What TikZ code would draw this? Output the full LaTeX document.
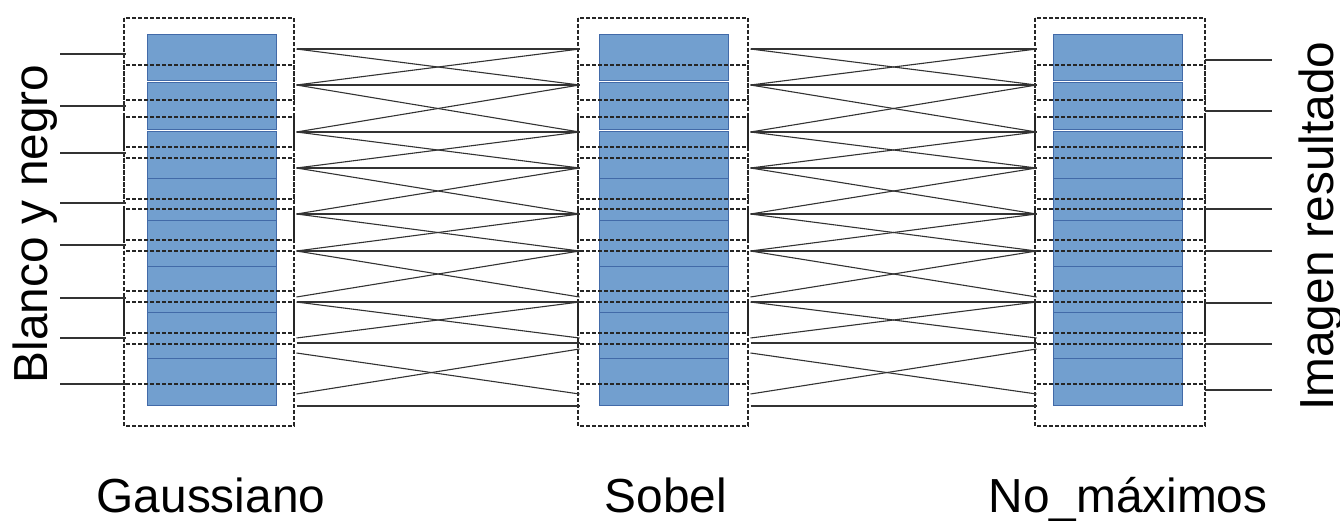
\documentclass[tikz,border=0pt]{standalone}
\usepackage{fontspec}
\setmainfont{Liberation Sans}
\usetikzlibrary{positioning}

\definecolor{azul}{RGB}{114,159,207}
\definecolor{azulborde}{RGB}{66,106,168}

\begin{document}
\begin{tikzpicture}[
x=0.5pt, y=-0.5pt,
bloque/.style={draw=azulborde, fill=azul, line width=0.5pt},
ventana/.style={draw=black!85, dash pattern=on 2pt off 1pt, line width=0.6pt},
enlace/.style={draw=black!80, line width=0.55pt},
etiqueta/.style={font=\fontsize{23.9}{28}\selectfont, inner sep=0pt},
]
\useasboundingbox (0,0) rectangle (1340,520);

% las tres etapas: bloques, ventanas y puertos
\foreach \nombre/\cx/\bx in {gauss/124/147, sobel/578/599, nomax/1035/1053} {
  \foreach \ya/\yb in {34/80.7, 82.7/129, 131.7/178, 178/224, 220/266, 266/312, 312/358, 358/405}
    \draw[bloque] (\bx,\ya) rectangle (\bx+129,\yb);
  \foreach \yt in {18,65,117,158,209,251,302,344}
    \draw[ventana] (\cx,\yt) rectangle ++(170,82);
  \foreach \y [count=\i] in {49,85,132,168,214,251,297,302,338,343,353,394,406}
    \coordinate (\nombre-s\i) at (\cx+172.5,\y);
  \foreach \y [count=\i] in {49,85,132,168,214,251,297,302,338,343,349,394,406}
    \coordinate (\nombre-e\i) at (\cx+1.5,\y);
}

% cruces entre etapas
\foreach \a/\b in {gauss/sobel, sobel/nomax}
  \foreach \i/\j in {1/1,1/2,2/1,2/2,2/3,3/2,3/3,3/4,4/3,4/4,4/5,5/4,5/5,5/6,6/5,6/6,6/7,7/6,8/8,8/9,9/8,10/10,11/12,12/11,13/13}
    \draw[enlace] (\a-s\i) -- (\b-e\j);

% entradas
\foreach \y [count=\i] in {54,106,153,203,245,298,338,384} {
  \coordinate (ent\i) at (60,\y);
  \coordinate (gauss-in\i) at (126,\y);
  \draw[enlace] (ent\i) -- (gauss-in\i);
}

% salidas
\foreach \y [count=\i] in {60,111,158,209,251,303,344,390} {
  \coordinate (nomax-out\i) at (1205,\y);
  \coordinate (sal\i) at (1272,\y);
  \draw[enlace] (nomax-out\i) -- (sal\i);
}

\node[etiqueta, anchor=base] (lgauss) at (211,512) {Gaussiano};
\node[etiqueta, anchor=base] (lsobel) at (666,512) {Sobel};
\node[etiqueta, anchor=base] (lnomax) at (1128,512) {No\_máximos};
\node[etiqueta, rotate=90, anchor=base] (lentrada) at (47,224) {Blanco y negro};
\node[etiqueta, rotate=90, anchor=base] (lsalida) at (1333,226) {Imagen resultado};
\end{tikzpicture}
\end{document}
